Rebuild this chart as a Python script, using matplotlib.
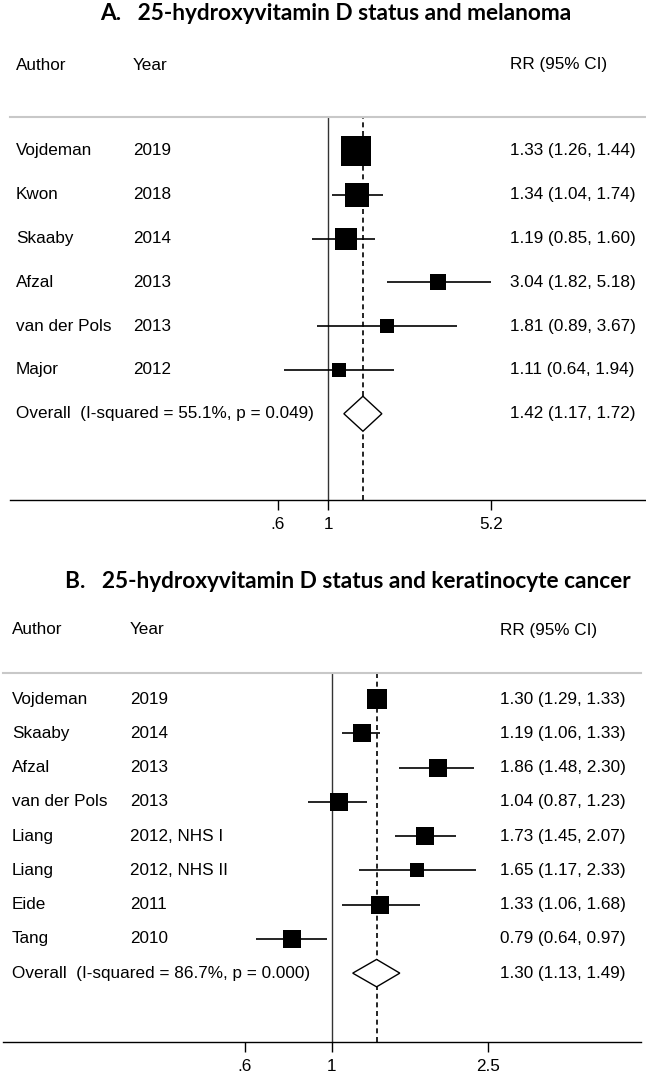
import matplotlib
matplotlib.use("Agg")
import matplotlib.pyplot as plt
import matplotlib.ticker as mticker
from matplotlib.patches import Polygon
from matplotlib.transforms import blended_transform_factory

plt.rcParams["font.family"] = ["Liberation Sans", "DejaVu Sans"]

# ── 데이터 ───────────────────────────────────────────────
A_TITLE = "A.   25-hydroxyvitamin D status and melanoma"
A_AUTHORS = ["Vojdeman", "Kwon", "Skaaby", "Afzal", "van der Pols", "Major"]
A_YEARS = ["2019", "2018", "2014", "2013", "2013", "2012"]
A_RR = [1.33, 1.34, 1.19, 3.04, 1.81, 1.11]
A_LO = [1.26, 1.04, 0.85, 1.82, 0.89, 0.64]
A_HI = [1.44, 1.74, 1.60, 5.18, 3.67, 1.94]
A_WEIGHT = [34.6, 22.5, 17.4, 10.4, 7.1, 8.1]
A_OVERALL = [1.42, 1.17, 1.72]
A_HET = ["55.1%", "0.049"]
A_TICKS = [0.6, 1, 5.2]
A_TICKLABELS = [".6", "1", "5.2"]

B_TITLE = "B.   25-hydroxyvitamin D status and keratinocyte cancer"
B_AUTHORS = ["Vojdeman", "Skaaby", "Afzal", "van der Pols", "Liang", "Liang", "Eide", "Tang"]
B_YEARS = ["2019", "2014", "2013", "2013", "2012, NHS I", "2012, NHS II", "2011", "2010"]
B_RR = [1.30, 1.19, 1.86, 1.04, 1.73, 1.65, 1.33, 0.79]
B_LO = [1.29, 1.06, 1.48, 0.87, 1.45, 1.17, 1.06, 0.64]
B_HI = [1.33, 1.33, 2.30, 1.23, 2.07, 2.33, 1.68, 0.97]
B_WEIGHT = [16.2, 14.6, 11.7, 13.1, 13.1, 7.9, 11.7, 11.7]
B_OVERALL = [1.30, 1.13, 1.49]
B_HET = ["86.7%", "0.000"]
B_TICKS = [0.6, 1, 2.5]
B_TICKLABELS = [".6", "1", "2.5"]

W, H = 646, 1072
FS = 12.3
BODY = ["Liberation Sans", "DejaVu Sans"]
TITLE_FONT = ["Lato", "DejaVu Sans"]
fig = plt.figure(figsize=(W / 100, H / 100), dpi=100)


def forest(title, authors, years, rr, lo, hi, weight, overall, het, ticks, ticklabels,
           box, xlim, ylim, frame, title_xy, header_y, cols):
    x0, x1, ytop, ybot = frame
    ax = fig.add_axes([x0 / W, 1 - ybot / H, (x1 - x0) / W, (ybot - ytop) / H])
    ax.set_xscale("log")
    ax.set_xlim(*xlim)
    ax.set_ylim(*ylim)
    tr = blended_transform_factory(fig.transFigure, ax.transData)

    # 연구별 CI + 가중치 박스
    ys = list(range(len(rr)))
    ax.hlines(ys, lo, hi, color="black", lw=1.2, zorder=2)
    for y, v, w in zip(ys, rr, weight):
        ax.plot(v, y, marker="s", ms=box * w ** 0.5 * 0.72, mew=0,
                color="black", ls="none", zorder=3)

    # 종합 추정치 (다이아몬드)
    yo = len(rr)
    est, olo, ohi = overall
    ax.add_patch(Polygon([(olo, yo), (est, yo - 0.4), (ohi, yo), (est, yo + 0.4)],
                         closed=True, facecolor="white", edgecolor="black", lw=1, zorder=3))
    ax.axvline(1, color="#333333", lw=1, zorder=1)
    ax.axvline(est, color="black", lw=1.2, ls=(0, (3, 2.2)), zorder=1)

    # 텍스트 열
    ca, cy_, cr = cols
    kw = dict(transform=tr, va="center", fontsize=FS, family=BODY)
    for y, a, yr, v, l, h in zip(ys, authors, years, rr, lo, hi):
        ax.text(ca / W, y, a, **kw)
        ax.text(cy_ / W, y, yr, **kw)
        ax.text(cr / W, y, f"{v:.2f} ({l:.2f}, {h:.2f})", **kw)
    ax.text(ca / W, yo, f"Overall  (I-squared = {het[0]}, p = {het[1]})", **kw)
    ax.text(cr / W, yo, f"{est:.2f} ({olo:.2f}, {ohi:.2f})", **kw)

    hy = 1 - header_y / H
    fig.text(ca / W, hy, "Author", va="center", fontsize=FS, family=BODY)
    fig.text(cy_ / W, hy, "Year", va="center", fontsize=FS, family=BODY)
    fig.text(cr / W, hy, "RR (95% CI)", va="center", fontsize=FS, family=BODY)
    fig.text(title_xy[0] / W, 1 - title_xy[1] / H, title, va="center", fontsize=16.3,
             fontweight="bold", family=TITLE_FONT)

    ax.set_xticks(ticks)
    ax.set_xticklabels(ticklabels, family=BODY)
    ax.xaxis.set_minor_locator(mticker.NullLocator())
    ax.set_yticks([])
    ax.tick_params(axis="x", length=7, width=1, labelsize=FS, pad=5)
    for s in ("left", "right"):
        ax.spines[s].set_visible(False)
    ax.spines["top"].set_color("#c8c8c8")
    ax.spines["top"].set_linewidth(1.5)
    ax.spines["bottom"].set_linewidth(1)
    return ax


forest(A_TITLE, A_AUTHORS, A_YEARS, A_RR, A_LO, A_HI, A_WEIGHT, A_OVERALL, A_HET,
       A_TICKS, A_TICKLABELS, box=5.27, xlim=(0.0396, 25.06), ylim=(7.97, -0.776),
       frame=(10, 646, 117, 500), title_xy=(100, 14), header_y=65, cols=(16, 133, 510))

forest(B_TITLE, B_AUTHORS, B_YEARS, B_RR, B_LO, B_HI, B_WEIGHT, B_OVERALL, B_HET,
       B_TICKS, B_TICKLABELS, box=4.97, xlim=(0.145, 6.14), ylim=(10.01, -0.76),
       frame=(3, 641, 673, 1042), title_xy=(65, 582), header_y=630, cols=(12, 130, 500))

fig.savefig("out.png", dpi=100, facecolor="white")
